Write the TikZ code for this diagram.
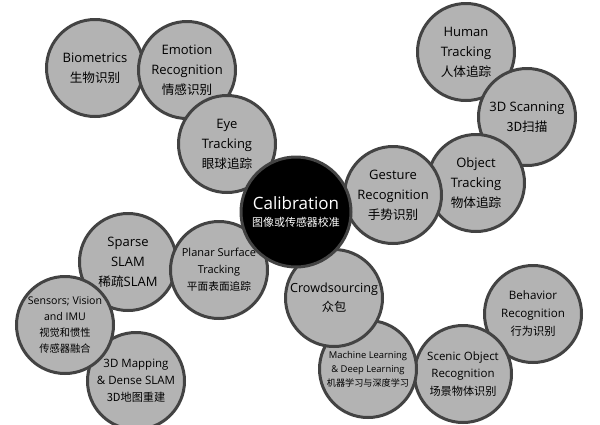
\documentclass[tikz,border=0pt]{standalone}
\usepackage{fontspec}
\setmainfont{Open Sans}
\newfontfamily\cjk[Scale=0.97]{Noto Sans CJK SC}
\usepackage{xcolor}
\definecolor{topicgray}{HTML}{B3B3B3}
\definecolor{ringgray}{HTML}{434343}
\newcommand{\zh}[1]{{\cjk #1}}

\begin{document}
\begin{tikzpicture}[x=1pt, y=-1pt,
  topic/.style={circle, draw=ringgray, fill=topicgray, line width=3pt,
    minimum size=97pt, inner sep=0pt, align=center,
    font=\fontsize{13}{20}\selectfont},
  hub/.style={topic, fill=black, text=white, minimum size=110pt}]
  \useasboundingbox (0,0) rectangle (600,424);

  % upper left chain
  \node[topic] (bio) at (95,68) {Biometrics\\\zh{生物识别}};
  \node[topic] (emo) at (187,70) {Emotion\\Recognition\\\zh{情感识别}};
  \node[topic] (eye) at (227,144) {Eye\\Tracking\\\zh{眼球追踪}};

  % upper right chain
  \node[topic] (human) at (466,52) {Human\\Tracking\\\zh{人体追踪}};
  \node[topic] (scan) at (527,117) {3D Scanning\\\zh{3D扫描}};
  \node[topic] (object) at (476,183) {Object\\Tracking\\\zh{物体追踪}};
  \node[topic] (gesture) at (393,195) {Gesture\\Recognition\\\zh{手势识别}};

  % lower left chain
  \node[topic, font=\fontsize{11.5}{17}\selectfont] (mapping) at (136,381)
    {3D Mapping\\\& Dense SLAM\\\zh{3D地图重建}};
  \node[topic] (sparse) at (128,262) {Sparse\\SLAM\\\zh{稀疏}SLAM};
  \node[topic, font=\fontsize{10.6}{16}\selectfont] (sensors) at (65,325)
    {Sensors; Vision\\and IMU\\\zh{视觉和惯性}\\\zh{传感器融合}};
  \node[topic, font=\fontsize{11}{17}\selectfont] (planar) at (219,270)
    {Planar Surface\\Tracking\\\zh{平面表面追踪}};

  % lower right chain
  \node[topic, font=\fontsize{11.6}{18}\selectfont] (behavior) at (533,314)
    {Behavior\\Recognition\\\zh{行为识别}};
  \node[topic, font=\fontsize{11.5}{17.5}\selectfont] (scenic) at (463,374)
    {Scenic Object\\Recognition\\\zh{场景物体识别}};
  \node[topic, font=\fontsize{9.4}{14}\selectfont] (learning) at (368,369)
    {Machine Learning\\\& Deep Learning\\\zh{机器学习与深度学习}};
  \node[topic, font=\fontsize{12.6}{19}\selectfont] (crowd) at (334,298)
    {Crowdsourcing\\\zh{众包}};

  % centre
  \node[hub, font=\fontsize{17}{19}\selectfont] (calib) at (296,212)
    {Calibration\\[-2pt]{\fontsize{11.3}{13}\selectfont\zh{图像或传感器校准}}};
\end{tikzpicture}
\end{document}
